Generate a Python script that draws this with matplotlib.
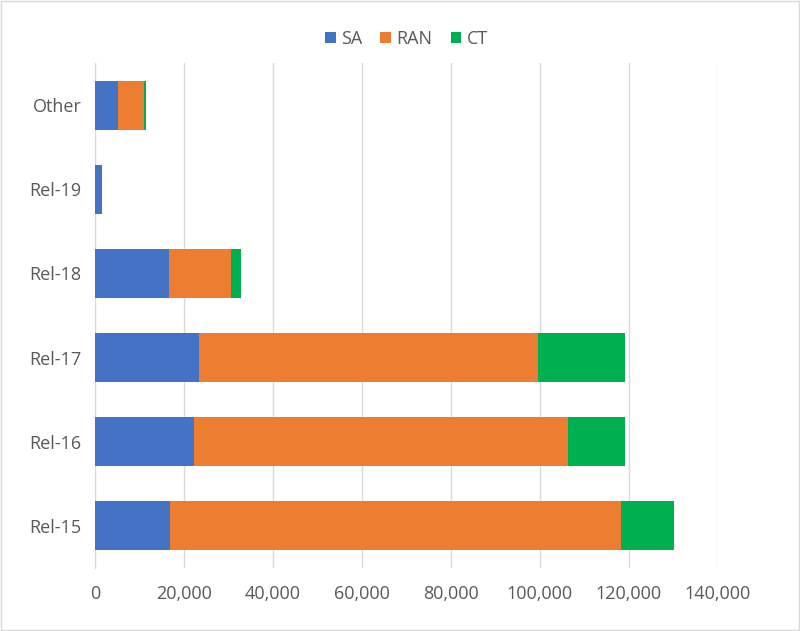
import matplotlib.pyplot as plt
from matplotlib.ticker import FuncFormatter

# Values
releases = ['Rel-15', 'Rel-16', 'Rel-17', 'Rel-18', 'Rel-19', 'Other']
sa = [16800, 22280, 23260, 16650, 1420, 5090]
ran = [101510, 84160, 76290, 13890, 0, 5790]
ct = [11940, 12840, 19570, 2250, 0, 450]

series = [('SA', sa, '#4472C4'), ('RAN', ran, '#ED7D31'), ('CT', ct, '#00B050')]
text_color = '#595959'

plt.rcParams['font.family'] = ['Open Sans', 'DejaVu Sans']

fig = plt.figure(figsize=(8, 6.31), dpi=100)
ax = fig.add_axes([0.119, 0.100, 0.778, 0.800])

left = [0] * len(releases)
for name, values, color in series:
    ax.barh(releases, values, left=left, height=0.58, color=color, label=name, zorder=3)
    left = [l + v for l, v in zip(left, values)]

ax.set_xlim(0, 140000)
ax.set_ylim(-0.5, len(releases) - 0.5)
ax.set_xticks(range(0, 140001, 20000))
ax.xaxis.set_major_formatter(FuncFormatter(lambda v, p: f'{int(v):,}'))
ax.grid(axis='x', color='#D9D9D9', linewidth=1, zorder=0)
for side in ['top', 'right', 'bottom']:
    ax.spines[side].set_visible(False)
ax.spines['left'].set_color('#D9D9D9')
ax.tick_params(axis='both', length=0, labelsize=13, labelcolor=text_color)
ax.tick_params(axis='y', pad=10)
ax.tick_params(axis='x', pad=12)

fig.legend(loc='center', bbox_to_anchor=(0.508, 0.938), ncol=3, frameon=False,
           fontsize=13, labelcolor=text_color, handlelength=0.6, handleheight=0.6,
           handletextpad=0.3, columnspacing=1.0)

fig.patches.append(plt.Rectangle((0.001, 0.001), 0.998, 0.998, transform=fig.transFigure,
                                 fill=False, edgecolor='#D9D9D9', linewidth=1))

fig.savefig('out.png', dpi=100)
